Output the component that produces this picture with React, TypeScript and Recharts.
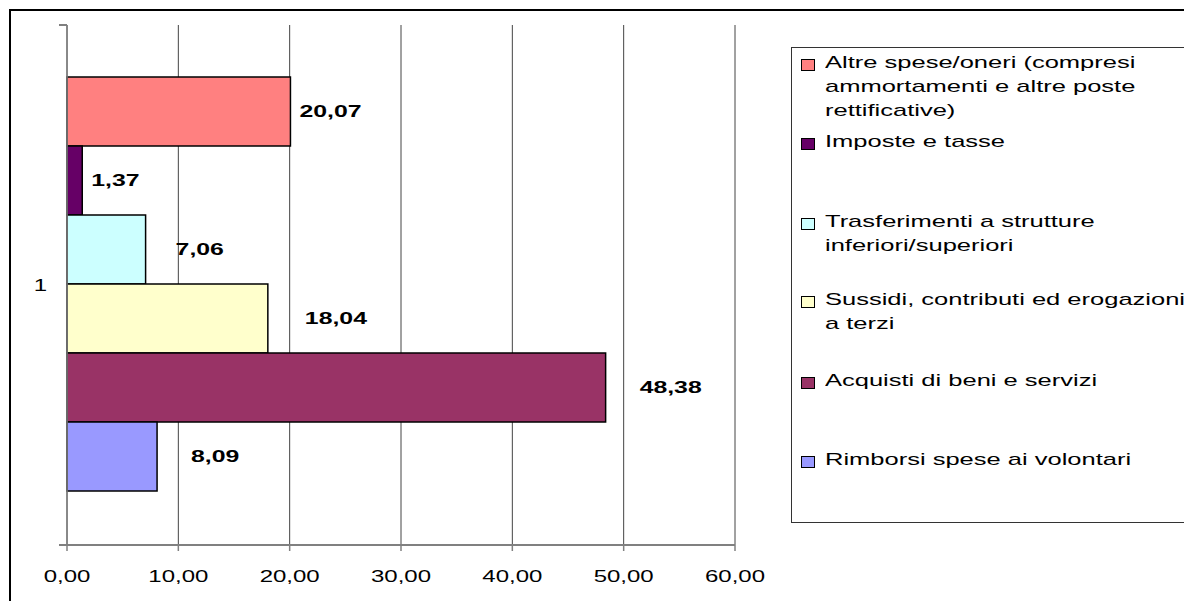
import { Bar, BarChart, CartesianGrid, LabelList, Legend, XAxis, YAxis } from "recharts";

const categories = ["1"];
const seriesNames = [
  "Altre spese/oneri (compresi ammortamenti e altre poste rettificative)",
  "Imposte e tasse",
  "Trasferimenti a strutture inferiori/superiori",
  "Sussidi, contributi ed erogazioni a terzi",
  "Acquisti di beni e servizi",
  "Rimborsi spese ai volontari",
];
const seriesValues = [20.07, 1.37, 7.06, 18.04, 48.38, 8.09];
const xTicks = [0, 10, 20, 30, 40, 50, 60];

// styling, one entry per series
const colors = ["#FF8080", "#660066", "#CCFFFF", "#FFFFCC", "#993366", "#9999FF"];
const labelGaps = [9, 9, 30, 37, 34, 34];
const legendTops = [3, 82, 162, 240, 321, 400];

const W = 1184;
const H = 601;
const MARGIN = { top: 25, right: 449, bottom: 26, left: 27 };
const X_AXIS_H = 30;
const Y_AXIS_W = 40;
const PLOT_H = H - MARGIN.top - MARGIN.bottom - X_AXIS_H;
const BAND = PLOT_H / categories.length;

const keys = seriesNames.map((_, i) => `s${i}`);
const data = categories.map((cat) => {
  const row: Record<string, string | number> = { cat };
  keys.forEach((k, i) => (row[k] = seriesValues[i]));
  return row;
});

const fmt = (v: number) => v.toFixed(2).replace(".", ",");
const FONT = "'Liberation Sans', Arial, sans-serif";

function XTick({ x, y, payload }: any) {
  return (
    <text
      transform={`translate(${x},${y}) scale(1.5,1)`}
      textAnchor="middle"
      dy="0.71em"
      fontFamily={FONT}
      fontSize={16}
      fill="#000"
    >
      {fmt(payload.value)}
    </text>
  );
}

// category label plus tick marks at the band edges (Excel style)
function YTick({ x, y, payload }: any) {
  const axisX = MARGIN.left + Y_AXIS_W;
  return (
    <g>
      <line x1={axisX - 8} x2={axisX} y1={y - BAND / 2} y2={y - BAND / 2} stroke="#808080" strokeWidth={2} />
      <line x1={axisX - 8} x2={axisX} y1={y + BAND / 2} y2={y + BAND / 2} stroke="#808080" strokeWidth={2} />
      <text
        transform={`translate(${x},${y}) scale(1.5,1)`}
        textAnchor="end"
        dy="0.35em"
        fontFamily={FONT}
        fontSize={16}
        fill="#000"
      >
        {payload.value}
      </text>
    </g>
  );
}

function makeLabel(gap: number) {
  return (props: any) => {
    const { x, y, width, height, value } = props;
    return (
      <text
        transform={`translate(${x + width + gap},${y + height / 2}) scale(1.46,1)`}
        textAnchor="start"
        dy="0.35em"
        fontFamily={FONT}
        fontSize={17}
        fontWeight="bold"
        fill="#000"
      >
        {fmt(value)}
      </text>
    );
  };
}

function LegendBox() {
  return (
    <div
      style={{
        position: "relative",
        width: 420,
        height: 474,
        border: "1px solid #333",
        background: "#fff",
        fontFamily: FONT,
        fontSize: 17,
        color: "#000",
      }}
    >
      {seriesNames.map((name, i) => (
        <div key={name} style={{ position: "absolute", left: 0, top: legendTops[i] }}>
          <div
            style={{
              position: "absolute",
              left: 9,
              top: 8,
              width: 12,
              height: 10,
              background: colors[i],
              border: "1.5px solid #000",
            }}
          />
          <div
            style={{
              position: "absolute",
              left: 33,
              top: 0,
              width: 244,
              lineHeight: "24px",
              transform: "scaleX(1.5)",
              transformOrigin: "left top",
            }}
          >
            {name}
          </div>
        </div>
      ))}
    </div>
  );
}

export default function App() {
  return (
    <div style={{ position: "absolute", left: 0, top: 0, width: W, height: H, overflow: "hidden", background: "#fff" }}>
      <div
        style={{
          position: "absolute",
          left: 9,
          top: 9,
          width: 1200,
          height: 620,
          border: "2px solid #000",
        }}
      />
      <div style={{ position: "absolute", left: 0, top: 0 }}>
        <BarChart
          width={W}
          height={H}
          data={data}
          layout="vertical"
          margin={MARGIN}
          barCategoryGap="10%"
          barGap={0}
        >
          <CartesianGrid horizontal={false} stroke="#444" strokeWidth={1} />
          <XAxis
            type="number"
            domain={[0, 60]}
            ticks={xTicks}
            height={X_AXIS_H}
            tick={<XTick />}
            tickSize={6}
            tickMargin={20}
            axisLine={{ stroke: "#808080", strokeWidth: 2 }}
            tickLine={{ stroke: "#808080", strokeWidth: 1.5 }}
          />
          <YAxis
            type="category"
            dataKey="cat"
            width={Y_AXIS_W}
            tick={<YTick />}
            tickLine={false}
            tickSize={0}
            tickMargin={20}
            axisLine={{ stroke: "#808080", strokeWidth: 1.5 }}
          />
          <Legend
            layout="horizontal"
            verticalAlign="middle"
            align="center"
            wrapperStyle={{ position: "absolute", left: 791, top: 47, width: 422, height: 476 }}
            content={() => <LegendBox />}
          />
          {keys.map((k, i) => (
            <Bar
              key={k}
              dataKey={k}
              name={seriesNames[i]}
              fill={colors[i]}
              stroke="#000"
              strokeWidth={1.5}
              isAnimationActive={false}
            >
              <LabelList dataKey={k} content={makeLabel(labelGaps[i])} />
            </Bar>
          ))}
        </BarChart>
      </div>
    </div>
  );
}
